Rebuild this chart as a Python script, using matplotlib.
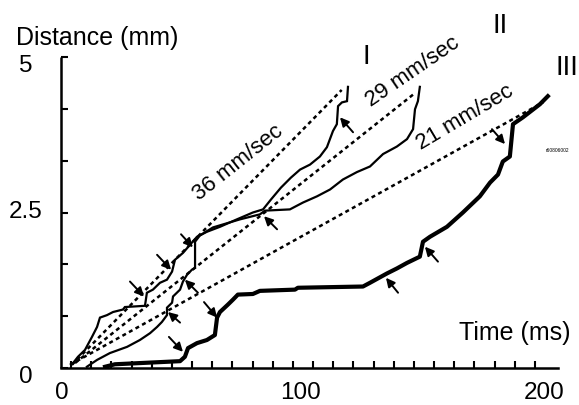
#!/usr/bin/env python3
"""
Distance vs time traces for three runs (I, II, III) with the fitted
speed lines (36, 29 and 21 mm/sec) drawn as dotted lines.
"""

import matplotlib
matplotlib.use("Agg")
import matplotlib.pyplot as plt

# --- data (ms, mm) -----------------------------------------------------------
run1_t = [5.0, 7.0, 9.9, 12.8, 14.9, 16.1, 19.0, 21.5, 25.6, 26.4, 34.7, 35.5,
          38.0, 40.9, 43.8, 45.9, 47.1, 50.4, 53.3, 56.2, 60.3, 65.7, 72.7,
          79.3, 83.5, 86.8, 90.9, 95.0, 98.8, 102.9, 107.0, 109.9, 112.4,
          114.0, 114.5, 116.1, 118.2, 118.6]
run1_d = [0.08, 0.18, 0.29, 0.50, 0.66, 0.81, 0.85, 0.90, 0.94, 0.98, 1.00,
          1.21, 1.26, 1.37, 1.42, 1.55, 1.74, 1.85, 1.98, 2.11, 2.19, 2.27,
          2.39, 2.50, 2.55, 2.71, 2.90, 3.06, 3.19, 3.27, 3.40, 3.55, 3.81,
          3.92, 4.21, 4.27, 4.29, 4.52]

run2_t = [10.7, 14.9, 20.2, 27.3, 32.6, 36.8, 39.7, 41.7, 43.8, 43.8, 45.9,
          46.3, 49.2, 50.4, 52.1, 54.1, 55.4, 55.4, 57.4, 62.8, 74.0, 82.2,
          84.3, 94.6, 100.0, 105.8, 111.2, 116.5, 122.3, 127.7, 133.1, 138.8,
          143.0, 145.5, 146.3, 147.5, 148.3]
run2_d = [0.02, 0.13, 0.24, 0.34, 0.45, 0.56, 0.66, 0.74, 0.85, 0.97, 1.05,
          1.15, 1.26, 1.39, 1.50, 1.58, 1.61, 2.03, 2.13, 2.26, 2.39, 2.47,
          2.53, 2.55, 2.66, 2.76, 2.87, 3.03, 3.15, 3.24, 3.44, 3.56, 3.68,
          3.84, 4.16, 4.29, 4.52]

run3_t = [18.2, 22.3, 49.2, 51.2, 52.5, 56.2, 60.3, 63.6, 64.5, 65.7, 69.0,
          71.1, 73.1, 79.3, 82.2, 96.7, 97.9, 124.8, 127.7, 134.7, 138.8,
          143.0, 148.3, 149.6, 152.5, 159.5, 166.1, 173.1, 177.3, 180.6,
          182.6, 185.5, 186.8, 190.9, 197.9, 201.2]
run3_d = [0.02, 0.06, 0.11, 0.18, 0.32, 0.40, 0.45, 0.53, 0.81, 0.90, 1.02,
          1.10, 1.18, 1.19, 1.24, 1.26, 1.29, 1.31, 1.37, 1.52, 1.60, 1.69,
          1.79, 2.03, 2.11, 2.27, 2.50, 2.76, 2.98, 3.11, 3.32, 3.40, 3.92,
          4.03, 4.24, 4.37]

# speed lines: start and end points (ms, mm)
speed_labels = ["36 mm/sec", "29 mm/sec", "21 mm/sec"]
speed_t = [[4.5, 116.0], [5.8, 146.3], [3.7, 199.2]]
speed_d = [[0.05, 4.47], [0.08, 4.42], [0.05, 4.27]]

# arrows marking the steps: (tail, head)
arrow_tail = [(39.7, 1.82), (28.5, 1.39), (49.6, 2.15), (89.3, 2.23),
              (49.2, 0.73), (56.6, 1.21), (59.1, 1.06), (44.6, 0.50),
              (120.7, 3.79), (178.1, 3.84), (155.8, 1.71), (139.3, 1.21)]
arrow_head = [(45.5, 1.58), (34.3, 1.15), (54.5, 1.94), (83.9, 2.44),
              (44.2, 0.90), (51.2, 1.42), (64.5, 0.81), (50.4, 0.26),
              (115.3, 4.03), (183.5, 3.60), (150.4, 1.95), (134.3, 1.45)]

run_names = ["I", "II", "III"]
x_tick_labels = ["0", "100", "200"]
y_tick_labels = ["0", "2.5", "5"]


def main() -> None:
    plt.rcParams["font.family"] = ["Liberation Sans", "DejaVu Sans"]

    fig = plt.figure(figsize=(5.79, 4.05), dpi=100)
    ax = fig.add_axes([61 / 579, 37 / 405, 497 / 579, 311 / 405])

    # traces
    ax.plot(run1_t, run1_d, color="black", lw=1.6, solid_joinstyle="miter")
    ax.plot(run2_t, run2_d, color="black", lw=1.6, solid_joinstyle="miter")
    ax.plot(run3_t, run3_d, color="black", lw=3.0, solid_joinstyle="round")

    # speed lines
    for t, d in zip(speed_t, speed_d):
        ax.plot(t, d, color="black", lw=1.8, linestyle=(0, (1.6, 1.4)))

    # speed labels, rotated along the lines
    label_pos = [(73.0, 3.30, 38.5), (145.5, 4.77, 34.4), (167.0, 4.03, 30.7)]
    for text, (x, y, rot) in zip(speed_labels, label_pos):
        ax.text(x, y, text, rotation=rot, rotation_mode="anchor",
                ha="center", va="center", fontsize=16)

    # arrows
    for tail, head in zip(arrow_tail, arrow_head):
        ax.annotate("", xy=head, xytext=tail,
                    arrowprops=dict(arrowstyle="-|>", color="black", lw=1.4,
                                    mutation_scale=13, shrinkA=0, shrinkB=0))

    # run numbers
    name_pos = [(126.0, 5.0), (181.4, 5.5), (209.1, 4.82)]
    for name, (x, y) in zip(run_names, name_pos):
        ax.text(x, y, name, ha="center", va="center", fontsize=20,
                clip_on=False)

    ax.text(205.0, 3.5, "r60806002", ha="center", va="center", fontsize=3.5,
            clip_on=False)

    # axes
    ax.set_xlim(0, 205.4)
    ax.set_ylim(0, 5)
    ax.spines["top"].set_visible(False)
    ax.spines["right"].set_visible(False)
    ax.spines["left"].set_linewidth(1.8)
    ax.spines["bottom"].set_linewidth(1.8)
    ax.spines["left"].set_capstyle("butt")

    ax.set_xticks([200 / 48 * (2 * k + 1) for k in range(24)])
    ax.set_yticks([5 / 6 * k for k in range(7)])
    ax.set_xticklabels([])
    ax.set_yticklabels([])
    ax.tick_params(direction="in", length=5, width=1.5)

    # hand-placed tick labels, as in the original
    for lab, x in zip(x_tick_labels, [0.4, 98.8, 199.6]):
        ax.text(x, -0.40, lab, ha="center", va="center", fontsize=17.5,
                clip_on=False)
    for lab, y in zip(y_tick_labels, [-0.15, 2.5, 4.85]):
        ax.text(-14.5, y, lab, ha="center", va="center", fontsize=17.5,
                clip_on=False)

    fig.text(97 / 579, 1 - 38 / 405, "Distance (mm)", ha="center",
             va="center", fontsize=18)
    fig.text(515 / 579, 1 - 333 / 405, "Time (ms)", ha="center",
             va="center", fontsize=18)

    fig.savefig("out.png", dpi=100)


if __name__ == "__main__":
    main()
